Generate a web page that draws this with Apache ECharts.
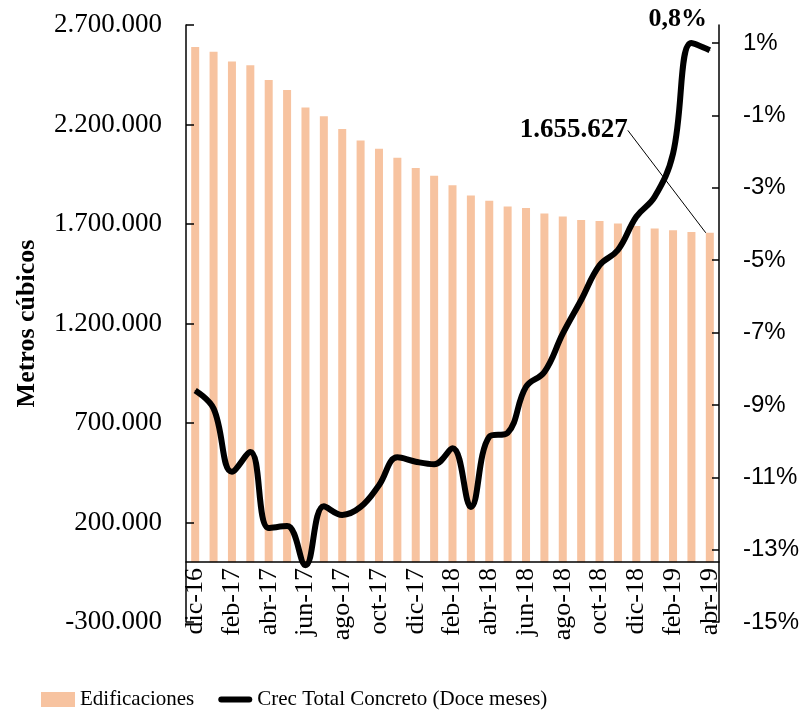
<!DOCTYPE html>
<html>
<head>
<meta charset="utf-8">
<script src="https://cdn.jsdelivr.net/npm/echarts@6/dist/echarts.min.js"></script>
<style>
html,body{margin:0;padding:0;background:#fff;}
#chart{width:806px;height:710px;}
</style>
</head>
<body>
<div id="chart"></div>
<script>
/* datos */
var meses = ['dic-16', 'ene-17', 'feb-17', 'mar-17', 'abr-17', 'may-17', 'jun-17', 'jul-17', 'ago-17', 'sep-17', 'oct-17', 'nov-17',
    'dic-17', 'ene-18', 'feb-18', 'mar-18', 'abr-18', 'may-18', 'jun-18', 'jul-18', 'ago-18', 'sep-18', 'oct-18', 'nov-18',
    'dic-18', 'ene-19', 'feb-19', 'mar-19', 'abr-19'];
var edificaciones = [2590000, 2565000, 2516000, 2498000, 2423000, 2373000, 2285000, 2241000, 2178000, 2120000, 2078000, 2033000,
    1982000, 1942000, 1895000, 1843000, 1817000, 1788000, 1780000, 1753000, 1738000, 1720000, 1715000, 1702000,
    1690000, 1677000, 1668000, 1660000, 1655627];
var crecConcreto = [-8.6, -9.1, -10.85, -10.3, -12.4, -12.35, -13.43, -11.8, -12.04, -11.82, -11.22, -10.45,
    -10.57, -10.64, -10.2, -11.82, -9.88, -9.77, -8.5, -8.09, -7.03, -6.1, -5.14, -4.72,
    -3.8, -3.25, -2.05, 1.0, 0.8];
var ticksIzq = [-300000, 200000, 700000, 1200000, 1700000, 2200000, 2700000];
var ticksDer = [-15, -13, -11, -9, -7, -5, -3, -1, 1];

function miles(v) {
    var s = String(Math.abs(v)).replace(/\B(?=(\d{3})+(?!\d))/g, '.');
    return (v < 0 ? '-' : '') + s;
}

var serif = 'Liberation Serif';

option = {
    animation: false,
    legend: {
        left: 36,
        top: 684,
        itemWidth: 34,
        itemHeight: 15,
        itemGap: 24,
        textStyle: {
            fontFamily: serif,
            fontSize: 21,
            color: '#000'
        },
        data: [
            {name: 'Edificaciones', icon: 'rect'},
            {name: 'Crec Total Concreto (Doce meses)', icon: 'path://M3,0 L31,0 A3,3 0 0 1 31,6 L3,6 A3,3 0 0 1 3,0 Z'}
        ]
    },
    grid: {
        left: 186,
        right: 87,
        top: 25,
        bottom: 88
    },
    xAxis: {
        type: 'category',
        data: meses,
        offset: -60,
        z: 10,
        axisLine: {
            onZero: false,
            lineStyle: {
                color: '#000',
                width: 1.5
            }
        },
        axisTick: {
            inside: true,
            length: 7,
            lineStyle: {
                color: '#000',
                width: 1.5
            }
        },
        axisLabel: {
            interval: 1,
            rotate: 90,
            margin: 6,
            fontFamily: serif,
            fontSize: 26,
            color: '#000'
        }
    },
    yAxis: [
        {
            type: 'value',
            min: -300000,
            max: 2700000,
            interval: 500000,
            z: 10,
            name: 'Metros cúbicos',
            nameLocation: 'middle',
            nameGap: 146,
            nameTextStyle: {
                fontFamily: serif,
                fontWeight: 'bold',
                fontSize: 26,
                color: '#000'
            },
            axisLine: {
                show: true,
                onZero: false,
                lineStyle: {
                    color: '#000',
                    width: 1.5
                }
            },
            axisTick: {
                show: true,
                inside: true,
                length: 8,
                lineStyle: {
                    color: '#000',
                    width: 1.5
                }
            },
            splitLine: {
                show: false
            },
            axisLabel: {
                margin: 24,
                fontFamily: serif,
                fontSize: 27,
                color: '#000',
                formatter: function (v) {
                    return ticksIzq.indexOf(v) >= 0 ? miles(v) : '';
                }
            }
        },
        {
            type: 'value',
            min: -15,
            max: 1.5,
            interval: 2,
            position: 'right',
            z: 10,
            axisLine: {
                show: true,
                onZero: false,
                lineStyle: {
                    color: '#000',
                    width: 1.5
                }
            },
            axisTick: {
                show: true,
                inside: true,
                length: 7,
                customValues: ticksDer,
                lineStyle: {
                    color: '#000',
                    width: 1.5
                }
            },
            splitLine: {
                show: false
            },
            axisLabel: {
                margin: 24,
                fontFamily: 'Liberation Sans',
                fontSize: 24,
                color: '#000',
                customValues: ticksDer,
                formatter: function (v) {
                    return ticksDer.indexOf(v) >= 0 ? v + '%' : '';
                }
            }
        }
    ],
    series: [
        {
            name: 'Edificaciones',
            type: 'bar',
            yAxisIndex: 0,
            barWidth: 8,
            itemStyle: {
                color: '#F7C3A0'
            },
            data: edificaciones.map(function (v, i) {
                if (i === edificaciones.length - 1) {
                    return {
                        value: v,
                        label: {
                            show: true,
                            position: 'top',
                            fontFamily: serif,
                            fontWeight: 'bold',
                            fontSize: 27,
                            color: '#000',
                            formatter: function (p) {
                                return miles(p.value);
                            }
                        }
                    };
                }
                return v;
            }),
            labelLayout: {
                dx: -136,
                dy: -84
            },
            labelLine: {
                show: true,
                lineStyle: {
                    color: '#000',
                    width: 1
                }
            }
        },
        {
            name: 'Crec Total Concreto (Doce meses)',
            type: 'line',
            yAxisIndex: 1,
            smooth: 0.4,
            symbol: 'circle',
            symbolSize: 1,
            showSymbol: true,
            lineStyle: {
                color: '#000',
                width: 6
            },
            itemStyle: {
                color: '#000'
            },
            data: crecConcreto.map(function (v, i) {
                if (i === crecConcreto.length - 1) {
                    return {
                        value: v,
                        label: {
                            show: true,
                            position: 'top',
                            offset: [-32, -13],
                            fontFamily: serif,
                            fontWeight: 'bold',
                            fontSize: 26,
                            color: '#000',
                            formatter: function (p) {
                                return String(p.value.toFixed(1)).replace('.', ',') + '%';
                            }
                        }
                    };
                }
                return v;
            })
        }
    ]
};
var myChart = echarts.init(document.getElementById('chart'));
    myChart.setOption(option);
</script>
</body>
</html>
